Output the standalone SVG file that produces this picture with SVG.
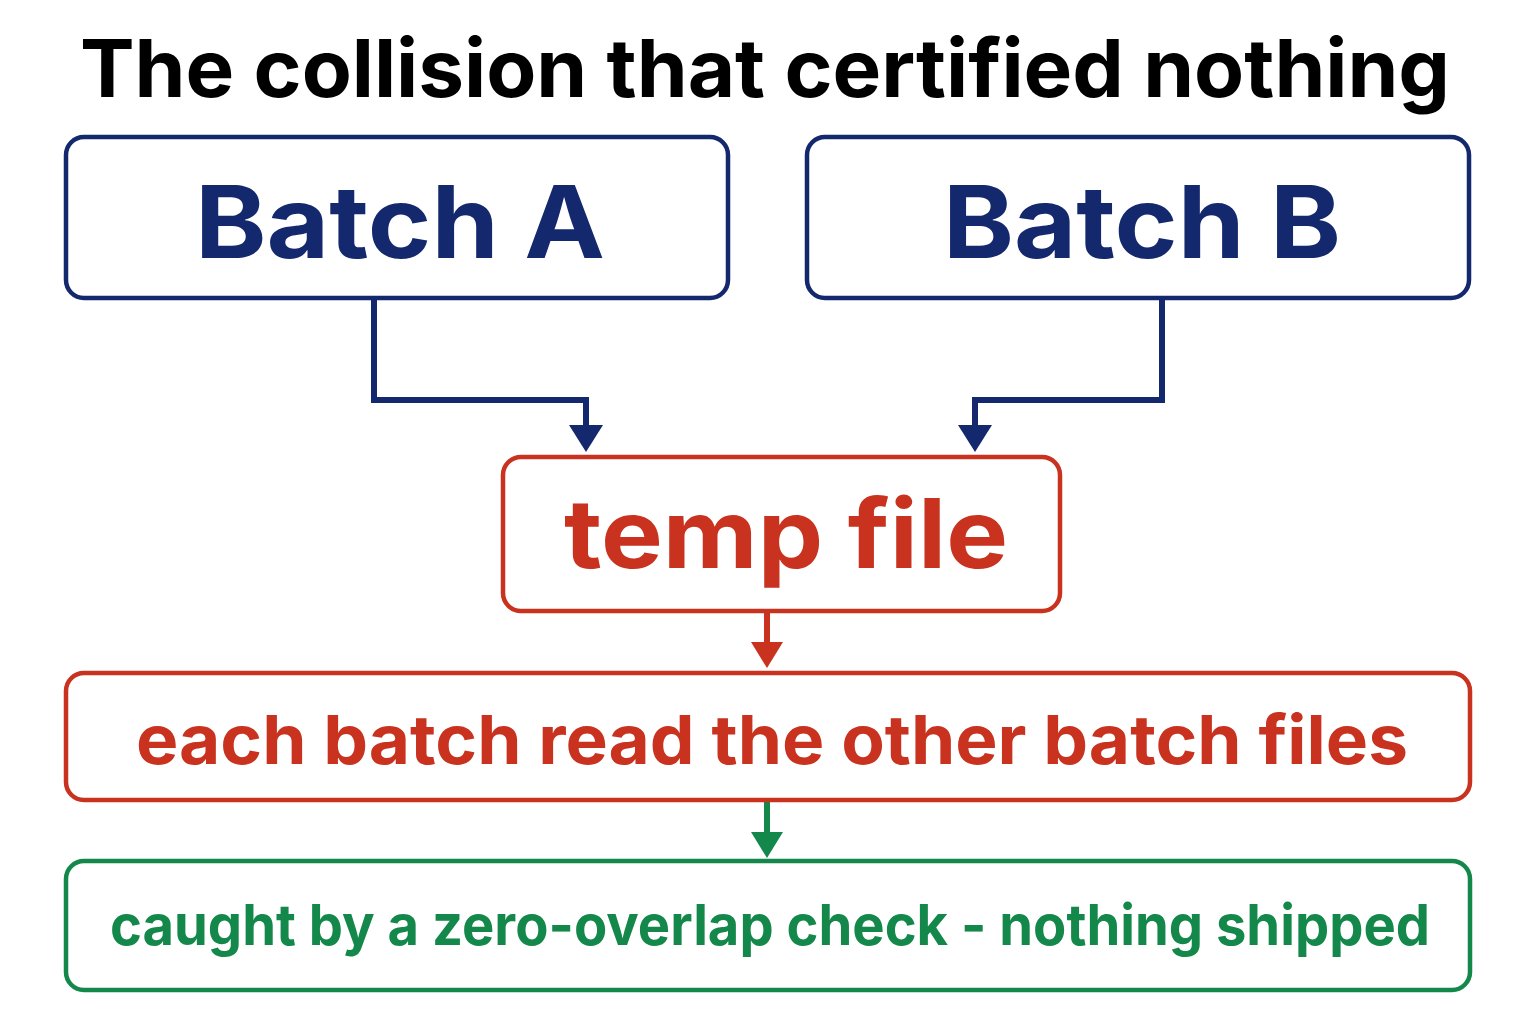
<svg xmlns="http://www.w3.org/2000/svg" width="1536" height="1024" viewBox="0 0 1536 1024">
<style>
text{font-family:Inter,"Liberation Sans",sans-serif;font-weight:700;text-anchor:middle}
.box{fill:#fff;stroke-width:4.5}
.navy{stroke:#14286e}.red{stroke:#c8321e}.green{stroke:#13884a}
.line{fill:none;stroke-width:6}
</style>
<rect width="1536" height="1024" fill="#fff"/>
<text x="765" y="97" font-size="80" fill="#000" textLength="1370" lengthAdjust="spacingAndGlyphs">The collision that certified nothing</text>
<g id="connectors">
<path class="line navy" d="M374,298 V400 H586 V428"/>
<path d="M569,425 L603,425 L586,452 Z" fill="#14286e"/>
<path class="line navy" d="M1162,298 V400 H975 V428"/>
<path d="M958,425 L992,425 L975,452 Z" fill="#14286e"/>
<path class="line red" d="M767,611 V645"/>
<path d="M751,642 L783,642 L767,668 Z" fill="#c8321e"/>
<path class="line green" d="M767,800 V835"/>
<path d="M751,832 L783,832 L767,858 Z" fill="#13884a"/>
</g>
<g id="batchA"><rect class="box navy" x="66" y="137" width="662" height="161" rx="18"/><text x="400" y="258" font-size="100" fill="#14286e" textLength="410" lengthAdjust="spacingAndGlyphs">Batch A</text></g>
<g id="batchB"><rect class="box navy" x="807" y="137" width="662" height="161" rx="18"/><text x="1142" y="258" font-size="100" fill="#14286e" textLength="398" lengthAdjust="spacingAndGlyphs">Batch B</text></g>
<g id="temp"><rect class="box red" x="503" y="457" width="557" height="154" rx="18"/><text x="786" y="568" font-size="96" fill="#c8321e" textLength="444" lengthAdjust="spacingAndGlyphs">temp file</text></g>
<g id="read"><rect class="box red" x="66" y="673" width="1404" height="127" rx="18"/><text x="772" y="764" font-size="68" fill="#c8321e" textLength="1272" lengthAdjust="spacingAndGlyphs">each batch read the other batch files</text></g>
<g id="caught"><rect class="box green" x="66" y="861" width="1404" height="129" rx="18"/><text x="770" y="945" font-size="56" fill="#13884a" textLength="1320" lengthAdjust="spacingAndGlyphs">caught by a zero-overlap check - nothing shipped</text></g>
</svg>
